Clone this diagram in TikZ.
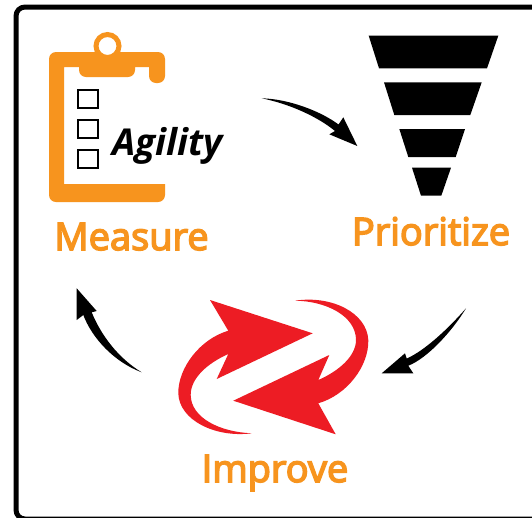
\documentclass[tikz,border=0pt]{standalone}
\usepackage{fontspec}
\setmainfont{Open Sans}
\newfontfamily\labelfont{Open Sans}[FakeBold=4]
\usetikzlibrary{calc}
\definecolor{clipcol}{HTML}{F7941E}
\definecolor{redcol}{HTML}{ED1C24}
\tikzset{label/.style={inner sep=0pt,anchor=base,text=clipcol,font=\fontsize{38}{38}\labelfont}}
\tikzset{check/.style={draw=black,line width=2.2pt,fill=white,minimum width=19.8pt,minimum height=17.8pt,inner sep=0pt}}
\tikzset{stripe/.style={fill=black}}
\tikzset{curly/.style={fill=black}}

\begin{document}
\begin{tikzpicture}[x=1pt,y=-1pt]
                    \clip (0,0) rectangle (532,517);
                    \fill[white] (0,0) rectangle (532,517);
                    \draw[line width=5pt,rounded corners=9pt] (16,7) rectangle (570,519);

                    % clipboard
                    \fill[clipcol] (107,52) [rounded corners=7pt] -- (165,52) -- (165,83) -- (149,83) [sharp corners] -- (149,67)
                        -- (135,67) [rounded corners=7pt] -- (135,77) -- (79,77) [sharp corners] -- (79,67) -- (64,67)
                        -- (64,184) -- (165,184) [rounded corners=7pt] -- (165,202) -- (49,202) -- (49,52) -- cycle;
                    \node[circle,draw=clipcol,fill=white,line width=5pt,minimum size=23pt,inner sep=0pt] (ring) at (107.5,46) {};
                    \node[check] (boxA) at (88,99) {};
                    \node[check] (boxB) at (88,129) {};
                    \node[check] (boxC) at (88,159) {};
                    \node[inner sep=0pt,anchor=base west,font=\fontsize{37}{37}\selectfont\bfseries\itshape] (agility) at (112,155) {Agility};
                    \node[label] (measure) at (131.5,250) {Measure};

                    % funnel
                    \fill[stripe] (368.7,35.7) -- (498.3,35.7) -- (487,68.3) -- (379,68.3) -- cycle;
                    \fill[stripe] (384,82.3) -- (481.7,82.3) -- (470.3,115) -- (394.3,115) -- cycle;
                    \fill[stripe] (399.3,129) -- (465,129) -- (455.7,157) -- (408.3,157) -- cycle;
                    \fill[stripe] (412,167.7) -- (451,167.7) -- (441.3,195.7) -- (421,195.7) -- cycle;
                    \node[label] (prioritize) at (431,245) {Prioritize};

                    % red arrows
                    \fill[redcol] (312.7,333.3) -- (210,300) -- (228.3,330.7)
                        .. controls (200,339) and (178,368) .. (178.3,393.3)
                        .. controls (179,420) and (215,438) .. (251.7,433.3)
                        .. controls (220,432) and (191,418) .. (190.7,395)
                        .. controls (190.5,378) and (208,363) .. (228.3,354)
                        -- (216.7,379) -- cycle;
                    \fill[redcol] (233.3,400.7) -- (335.7,434.3) -- (318.3,403.3)
                        .. controls (347,395) and (369,366) .. (368.3,340)
                        .. controls (367,313) and (332,295) .. (295,300.7)
                        .. controls (326,301) and (356,316) .. (356,340)
                        .. controls (356,356) and (339,371) .. (318.3,380)
                        -- (329.3,355) -- cycle;
                    \node[label] (improve) at (275,482) {Improve};

                    % cycle arrows
                    \coordinate (mp) at (261.7,98.3);
                    \coordinate (pi) at (357.3,146);
                    \coordinate (ip) at (466,308.3);
                    \coordinate (im) at (381.7,373.3);
                    \coordinate (mi) at (141.7,372.3);
                    \coordinate (mm) at (76.7,288.3);
                    \fill[curly] (mp) .. controls (290,99) and (322,112) .. (338.5,124.5)
                        -- (343.3,117.3) -- (pi) -- (329.3,134.3) -- (335,131)
                        .. controls (318,117) and (290,104) .. (mp) -- cycle;
                    \fill[curly] (ip) .. controls (447,330) and (424,351) .. (406.7,358.5)
                        -- (405,353.3) -- (im) -- (413.3,373.3) -- (408.3,365.7)
                        .. controls (428,358) and (453,330) .. (ip) -- cycle;
                    \fill[curly] (mi) .. controls (118,358) and (101,335) .. (91.7,312.3)
                        -- (96.7,311) -- (mm) -- (76.7,320) -- (83.3,315)
                        .. controls (92,338) and (114,362) .. (mi) -- cycle;
                \end{tikzpicture}
\end{document}
